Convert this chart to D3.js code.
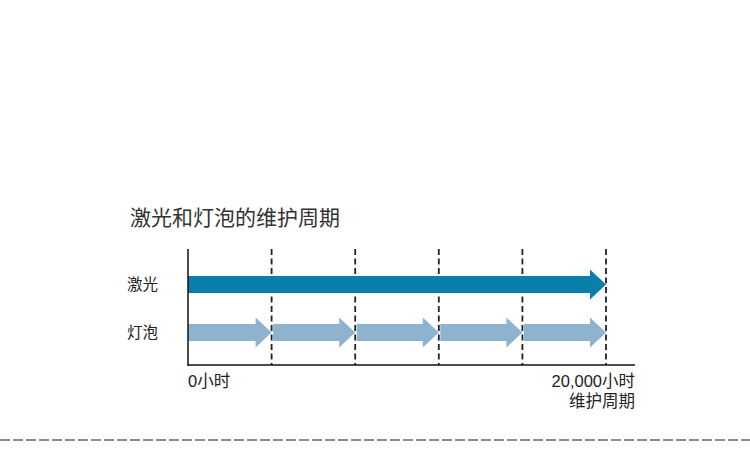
<!DOCTYPE html>
<html>
<head>
<meta charset="utf-8">
<script src="https://cdn.jsdelivr.net/npm/d3@7"></script>
<style>
  body { margin: 0; background: #fff; }
  svg { display: block; font-family: "Liberation Sans", "Noto Sans CJK SC", sans-serif; }
</style>
</head>
<body>
<div id="chart"></div>
<script>
"use strict"

// chart data
var title = "激光和灯泡的维护周期";
var categories = ["激光", "灯泡"];
var laserCycles = [[0, 20000]];
var bulbCycles = [[0, 4000], [4000, 8000], [8000, 12000], [12000, 16000], [16000, 20000]];
var dashTicks = [4000, 8000, 12000, 16000, 20000];
var startLabel = "0小时";
var endLabel = ["20,000小时", "维护周期"];

var width = 750, height = 454;
var svg = d3.select("#chart").append("svg")
    .attr("width", width)
    .attr("height", height);

// scales
var x = d3.scaleLinear().domain([0, 20000]).range([188, 606]);
var y = d3.scalePoint().domain(categories).range([284.5, 332.5]);
var axisTop = 249, axisBottom = 365, axisRight = 635;

// title
svg.append("text")
    .attr("x", 130)
    .attr("y", 225)
    .attr("font-size", 21)
    .attr("fill", "#333")
    .text(title);

// dashed guide lines
svg.selectAll(".guide")
    .data(dashTicks)
    .enter().append("line")
    .attr("x1", function(d) { return x(d); })
    .attr("x2", function(d) { return x(d); })
    .attr("y1", axisTop)
    .attr("y2", axisBottom)
    .attr("stroke", "#222")
    .attr("stroke-width", 1.8)
    .attr("stroke-dasharray", "6,3.5");

// arrow shape from a start/end pair
var bodyH = 17, headH = 30, headL = 16;
function arrowPath(d, cy, gap) {
    var x0 = x(d[0]) + gap, x1 = x(d[1]);
    var xh = x1 - headL;
    return "M" + x0 + "," + (cy - bodyH / 2) +
        "L" + xh + "," + (cy - bodyH / 2) +
        "L" + xh + "," + (cy - headH / 2) +
        "L" + x1 + "," + cy +
        "L" + xh + "," + (cy + headH / 2) +
        "L" + xh + "," + (cy + bodyH / 2) +
        "L" + x0 + "," + (cy + bodyH / 2) + "Z";
}

svg.selectAll(".laser")
    .data(laserCycles)
    .enter().append("path")
    .attr("d", function(d) { return arrowPath(d, y("激光"), 0); })
    .attr("fill", "#0b7fab");

svg.selectAll(".bulb")
    .data(bulbCycles)
    .enter().append("path")
    .attr("d", function(d, i) { return arrowPath(d, y("灯泡"), i === 0 ? 0 : 1.5); })
    .attr("fill", "#8db3cf");

// axes
svg.append("line")
    .attr("x1", x(0)).attr("x2", x(0))
    .attr("y1", axisTop).attr("y2", axisBottom + 1)
    .attr("stroke", "#111").attr("stroke-width", 1.5);
svg.append("line")
    .attr("x1", x(0)).attr("x2", axisRight)
    .attr("y1", axisBottom).attr("y2", axisBottom)
    .attr("stroke", "#111").attr("stroke-width", 1.5);

// category labels
svg.selectAll(".cat")
    .data(categories)
    .enter().append("text")
    .attr("x", 127)
    .attr("y", function(d) { return y(d) + 5; })
    .attr("font-size", 15.5)
    .attr("fill", "#222")
    .text(function(d) { return d; });

// axis end labels
svg.append("text")
    .attr("x", x(0))
    .attr("y", 387)
    .attr("font-size", 16.5)
    .attr("fill", "#222")
    .text(startLabel);
svg.selectAll(".endlab")
    .data(endLabel)
    .enter().append("text")
    .attr("x", axisRight)
    .attr("y", function(d, i) { return 387 + i * 20; })
    .attr("text-anchor", "end")
    .attr("font-size", 16.5)
    .attr("fill", "#222")
    .text(function(d) { return d; });

// bottom separator
svg.append("line")
    .attr("x1", 0).attr("x2", width)
    .attr("y1", 440).attr("y2", 440)
    .attr("stroke", "#666")
    .attr("stroke-width", 1.5)
    .attr("stroke-dasharray", "10,3");
</script>
</body>
</html>
